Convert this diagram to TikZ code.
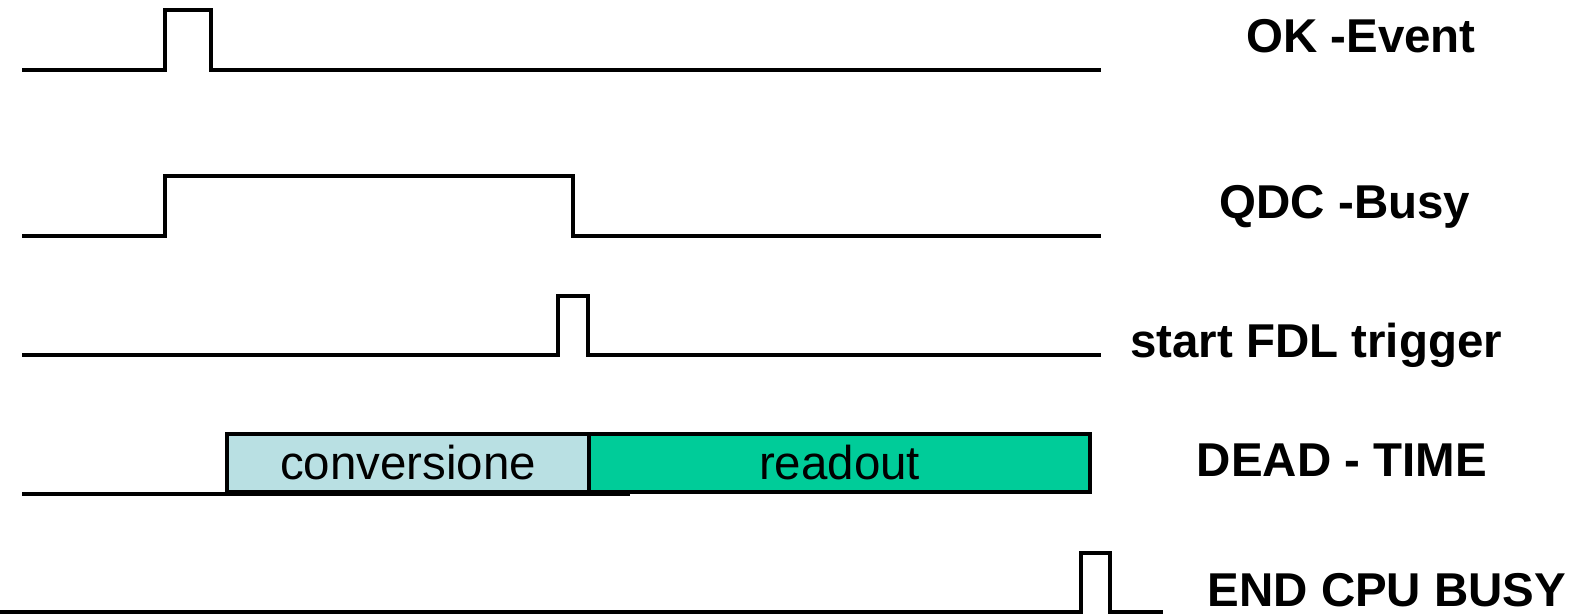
\documentclass[tikz,border=0pt]{standalone}
\usepackage{fontspec}
\setmainfont{Liberation Sans}
\definecolor{convcol}{RGB}{185,224,227}
\definecolor{readcol}{RGB}{0,204,153}
\def\sc{.01cm}
\def\xend{1101}
\tikzset{
  signal/.style={line width=1pt, line join=miter},
  sigtag/.style={font=\fontsize{13.5}{16}\selectfont\bfseries, inner sep=0pt},
  phase/.style={draw, line width=1.15pt, minimum height=.58cm, inner sep=0pt,
    font=\fontsize{13.5}{16}\selectfont, anchor=south west}
}

\begin{document}
\begin{tikzpicture} [x=\sc, y=-\sc]
\useasboundingbox (0,0) rectangle (1577,616);
% OK -Event
\draw [signal] (22,70) -- (165,70) -- (165,10) -- (211,10) -- (211,70) -- (\xend,70);
\node [sigtag] (okevent) at (1361,36) {OK -Event};
% QDC -Busy
\draw [signal] (22,236) -- (165,236) -- (165,176) -- (573,176) -- (573,236) -- (\xend,236);
\node [sigtag] (qdcbusy) at (1345,207) {QDC -Busy};
% start FDL trigger
\draw [signal] (22,355) -- (558,355) -- (558,296) -- (588,296) -- (588,355) -- (\xend,355);
\node [sigtag] (fdltrig) at (1316,345) {start FDL trigger};
% DEAD - TIME
\draw [signal] (22,494) -- (630,494);
\node [phase, fill=convcol, minimum width=3.62cm] (conv) at (225,494) {conversione};
\node [phase, fill=readcol, minimum width=5.01cm] (readout) at (587,494) {readout};
\node [sigtag] (deadtime) at (1342,460) {DEAD - TIME};
% END CPU BUSY
\draw [signal] (0,612) -- (1081,612) -- (1081,553) -- (1110,553) -- (1110,612) -- (1163,612);
\node [sigtag] (endcpu) at (1387,590) {END CPU BUSY};
\end{tikzpicture}
\end{document}
